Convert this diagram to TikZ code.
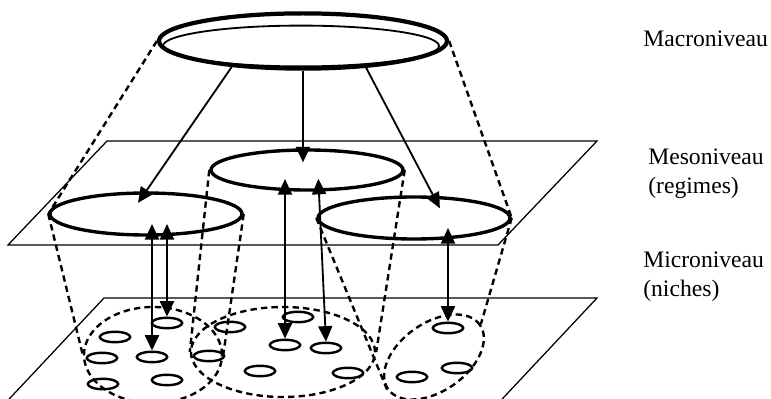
\documentclass[tikz,border=0pt]{standalone}
\usepackage{fontspec}
\setmainfont{Liberation Serif}
\usepackage{tikz}
\usetikzlibrary{arrows.meta,shapes.geometric}

\begin{document}
\begin{tikzpicture}[
			x=0.025cm, y=-0.025cm,
			plane/.style={line width=0.9pt},
			macro/.style={ellipse, draw, line width=3pt, minimum width=7.2cm, minimum height=1.38cm, inner sep=0pt},
			macroin/.style={ellipse, draw, line width=1.3pt, minimum width=6.9cm, minimum height=1.02cm, inner sep=0pt},
			regime/.style={ellipse, draw, line width=2.4pt, minimum width=4.8cm, minimum height=1.05cm, inner sep=0pt},
			cluster/.style={ellipse, draw, line width=1.7pt, dash pattern=on 4.5pt off 3pt, inner sep=0pt},
			niche/.style={ellipse, draw, line width=1.7pt, minimum width=0.76cm, minimum height=0.26cm, inner sep=0pt},
			cone/.style={line width=1.7pt, dash pattern=on 4.5pt off 3pt},
			arrow/.style={-{Triangle[length=11pt, width=10pt]}, line width=1.3pt, shorten >=-10pt},
			biarrow/.style={{Triangle[length=11pt, width=10pt]}-{Triangle[length=11pt, width=10pt]}, line width=1.3pt, shorten <=-9pt},
			lbl/.style={inner sep=0pt, anchor=north west, align=left, font=\fontsize{16.8}{20.3}\selectfont}
		]

		\useasboundingbox (0,0) rectangle (771,399);
		\clip (0,0) rectangle (771,399);

		\draw[plane] (107,141) -- (597,141) -- (498,245) -- (8,245) -- cycle;
		\draw[plane] (104,298) -- (597,298) -- (490,412) -- (-3,412) -- cycle;

		\node[macro] (macro) at (303,41) {};
		\node[macroin] (macroIn) at (301,46) {};

		\node[regime] (mesoL) at (146,214) {};
		\node[regime, minimum height=1cm] (mesoM) at (307,170) {};
		\node[regime] (mesoR) at (414,218) {};

		\node[cluster, minimum width=3.45cm, minimum height=2.4cm] (microL) at (153,355) {};
		\node[cluster, minimum width=4.6cm, minimum height=2.25cm] (microM) at (283,352) {};
		\node[cluster, minimum width=2.8cm, minimum height=1.7cm, rotate=35] (microR) at (434,357) {};

		\node[niche] (n1) at (167,323) {};
		\node[niche] (n2) at (115,337) {};
		\node[niche] (n3) at (102,358) {};
		\node[niche] (n4) at (152,357) {};
		\node[niche] (n5) at (103,384) {};
		\node[niche] (n6) at (167,380) {};
		\node[niche] (n7) at (209,356) {};
		\node[niche] (n8) at (230,327) {};
		\node[niche] (n9) at (260,371) {};
		\node[niche] (n10) at (298,317) {};
		\node[niche] (n11) at (285,345) {};
		\node[niche] (n12) at (326,348) {};
		\node[niche] (n13) at (348,373) {};
		\node[niche] (n14) at (448,328) {};
		\node[niche] (n15) at (457,368) {};
		\node[niche] (n16) at (412,377) {};

		\node[lbl] (macroLbl) at (643,31) {Macroniveau};
		\node[lbl] (mesoLbl) at (648,149) {Mesoniveau\\(regimes)};
		\node[lbl] (microLbl) at (643,252) {Microniveau\\(niches)};

		\draw[cone] (macro.west) -- (mesoL.west);
		\draw[cone] (macro.east) -- (mesoR.east);
		\draw[cone] (mesoL.west) -- (microL.west);
		\draw[cone] (mesoL.east) -- (microL.east);
		\draw[cone] (mesoM.west) -- (microM.west);
		\draw[cone] (mesoM.east) -- (microM.east);
		\draw[cone] (mesoR.west) -- (microR.west);
		\draw[cone] (mesoR.east) -- (microR.east);

		\draw[arrow] (macro.200) -- (mesoL.north);
		\draw[arrow] (macro.south) -- (macro.south |- mesoM.north);
		\draw[arrow] (macro.337) -- (mesoR.49);

		\draw[biarrow] (n4.north |- mesoL.south) -- (n4.north);
		\draw[biarrow] (n1.north |- mesoL.south) -- (n1.north);
		\draw[biarrow] (n11.north |- mesoM.south) -- (n11.north);
		\draw[biarrow] (mesoM.299) -- (n12.north);
		\draw[biarrow] (n14.north |- mesoR.south) -- (n14.north);
	\end{tikzpicture}
\end{document}
